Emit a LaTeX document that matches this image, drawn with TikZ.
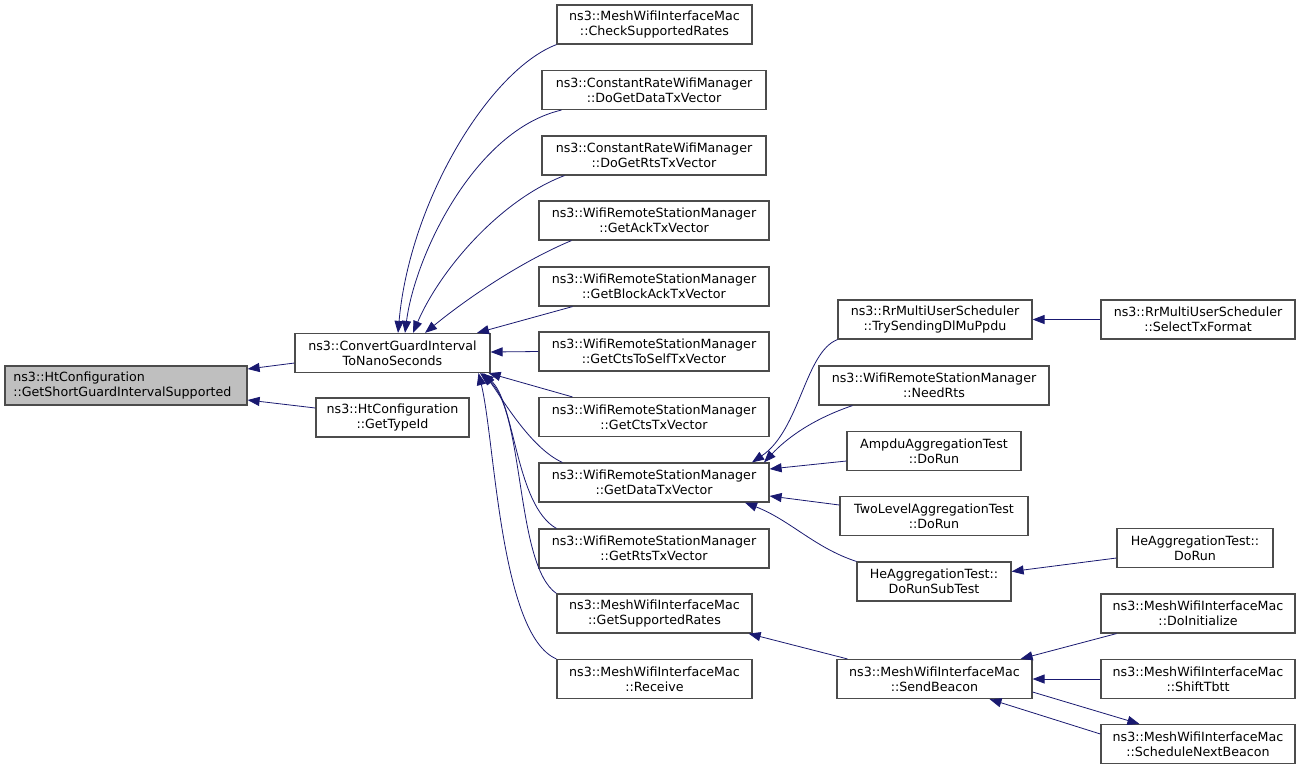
\documentclass[tikz,border=0pt]{standalone}
\usepackage{fontspec}
\setsansfont{DejaVu Sans}
\usepackage{tikz}
\usetikzlibrary{arrows.meta,calc}
\definecolor{edgeblue}{RGB}{25,25,112}
\definecolor{curfill}{RGB}{191,191,191}

\begin{document}
\begin{tikzpicture}[
  x=0.75pt, y=-0.75pt,
  font=\sffamily\fontsize{9.5}{11.25}\selectfont,
  >={Triangle[length=9pt,width=6.8pt]},
  box/.style={rectangle, draw=black!70, line width=0.9pt, fill=white,
              align=center, inner sep=2pt, minimum height=29.25pt},
  cur/.style={box, fill=curfill, align=left, text width=169pt, inner xsep=5.5pt},
  call/.style={->, draw=edgeblue, line width=0.6pt},
]
\useasboundingbox (0,0) rectangle (1301,769);

% Column 1-2: the function and its direct callers
\node[cur, minimum width=181.5pt] (root) at (126,385.5)
  {ns3::HtConfiguration\\::GetShortGuardIntervalSupported};
\node[box, minimum width=146.25pt] (conv) at (392.5,353)
  {ns3::ConvertGuardInterval\\ToNanoSeconds};
\node[box, minimum width=114.75pt] (typeid) at (392.5,417.5)
  {ns3::HtConfiguration\\::GetTypeId};

% Column 3: callers of ConvertGuardInterval
\node[box, minimum width=146.25pt] (check) at (654.5,24.5)
  {ns3::MeshWifiInterfaceMac\\::CheckSupportedRates};
\node[box, minimum width=168pt] (crdata) at (654,90)
  {ns3::ConstantRateWifiManager\\::DoGetDataTxVector};
\node[box, minimum width=168pt] (crrts) at (654,155.5)
  {ns3::ConstantRateWifiManager\\::DoGetRtsTxVector};
\node[box, minimum width=172.5pt] (ack) at (654,220.5)
  {ns3::WifiRemoteStationManager\\::GetAckTxVector};
\node[box, minimum width=172.5pt] (blockack) at (654,286.5)
  {ns3::WifiRemoteStationManager\\::GetBlockAckTxVector};
\node[box, minimum width=172.5pt] (ctsself) at (654,351.5)
  {ns3::WifiRemoteStationManager\\::GetCtsToSelfTxVector};
\node[box, minimum width=172.5pt] (cts) at (654,417)
  {ns3::WifiRemoteStationManager\\::GetCtsTxVector};
\node[box, minimum width=172.5pt] (data) at (654,482.5)
  {ns3::WifiRemoteStationManager\\::GetDataTxVector};
\node[box, minimum width=172.5pt] (rts) at (654,548.5)
  {ns3::WifiRemoteStationManager\\::GetRtsTxVector};
\node[box, minimum width=146.25pt] (supp) at (654.5,613.5)
  {ns3::MeshWifiInterfaceMac\\::GetSupportedRates};
\node[box, minimum width=146.25pt] (receive) at (654.5,679)
  {ns3::MeshWifiInterfaceMac\\::Receive};

% Column 4
\node[box, minimum width=145.5pt] (trysend) at (935,319.5)
  {ns3::RrMultiUserScheduler\\::TrySendingDlMuPpdu};
\node[box, minimum width=172.5pt] (needrts) at (934,385.5)
  {ns3::WifiRemoteStationManager\\::NeedRts};
\node[box, minimum width=130.5pt] (ampdu) at (934,451)
  {AmpduAggregationTest\\::DoRun};
\node[box, minimum width=141pt] (twolevel) at (934,516)
  {TwoLevelAggregationTest\\::DoRun};
\node[box, minimum width=115.5pt] (hesub) at (934,581.5)
  {HeAggregationTest::\\DoRunSubTest};
\node[box, minimum width=146.25pt] (beacon) at (934.5,679)
  {ns3::MeshWifiInterfaceMac\\::SendBeacon};

% Column 5
\node[box, minimum width=145.5pt] (selecttx) at (1198,319.5)
  {ns3::RrMultiUserScheduler\\::SelectTxFormat};
\node[box, minimum width=117pt] (herun) at (1195,548)
  {HeAggregationTest::\\DoRun};
\node[box, minimum width=145.5pt] (doinit) at (1198,613.5)
  {ns3::MeshWifiInterfaceMac\\::DoInitialize};
\node[box, minimum width=145.5pt] (shift) at (1198,679)
  {ns3::MeshWifiInterfaceMac\\::ShiftTbtt};
\node[box, minimum width=145.5pt] (sched) at (1198,744)
  {ns3::MeshWifiInterfaceMac\\::ScheduleNextBeacon};

% into the root
\draw[call] ($(conv.west)+(0,10)$) -- ($(root.east)+(0,-16.5)$);
\draw[call] ($(typeid.west)+(0,-9.5)$) -- ($(root.east)+(0,14.5)$);

% into ConvertGuardInterval, from above
\draw[call] (check.south west) .. controls (490,70) and (410,200) .. ($(conv.north)+(5.5,0)$);
\draw[call] ($(crdata.south west)+(20,0)$) .. controls (475,130) and (415,255) .. ($(conv.north)+(12.5,0)$);
\draw[call] ($(crrts.south west)+(23,0)$) .. controls (500,200) and (440,270) .. ($(conv.north)+(20.5,0)$);
\draw[call] ($(ack.south west)+(33,0)$) .. controls (520,262) and (465,300) .. ($(conv.north)+(32.5,0)$);
\draw[call] ($(blockack.south west)+(34,0)$) -- ($(conv.north)+(84.5,0)$);
\draw[call] (ctsself.west) -- ($(conv.east)+(0,-1)$);
% ... and from below
\draw[call] ($(cts.north west)+(34,0)$) -- ($(conv.south east)+(-2,0)$);
\draw[call] ($(data.north west)+(24,0)$) .. controls (530,448) and (500,395) .. ($(conv.south)+(91,0)$);
\draw[call] ($(rts.north west)+(18,0)$) .. controls (515,505) and (515,400) .. ($(conv.south)+(89,0)$);
\draw[call] (supp.north west) .. controls (515,565) and (525,410) .. ($(conv.south)+(87.5,0)$);
\draw[call] (receive.north west) .. controls (500,635) and (495,440) .. ($(conv.south)+(86,0)$);

% into GetDataTxVector
\draw[call] (trysend.south west) .. controls (805,352) and (800,430) .. ($(data.north)+(98,0)$);
\draw[call] ($(needrts.south west)+(34,0)$) .. controls (810,420) and (785,440) .. ($(data.north)+(110,0)$);
\draw[call] ($(ampdu.west)+(0,10)$) -- ($(data.east)+(0,-13.5)$);
\draw[call] ($(twolevel.west)+(0,-11)$) -- ($(data.east)+(0,13.5)$);
\draw[call] (hesub.north west) .. controls (815,548) and (790,520) .. ($(data.south)+(91,0)$);

\draw[call] (selecttx.west) -- (trysend.east);
\draw[call] ($(herun.west)+(0,10)$) -- ($(hesub.east)+(0,-10)$);

% SendBeacon group
\draw[call] ($(beacon.north west)+(11,0)$) -- ($(supp.south east)+(-4,0)$);
\draw[call] ($(doinit.south west)+(16,0)$) -- ($(beacon.north east)+(-12,0)$);
\draw[call] (shift.west) -- (beacon.east);
\draw[call] ($(beacon.east)+(0,13)$) -- ($(sched.north west)+(39,0)$);
\draw[call] ($(sched.west)+(0,-10)$) -- ($(beacon.south)+(55,0)$);
\end{tikzpicture}
\end{document}
